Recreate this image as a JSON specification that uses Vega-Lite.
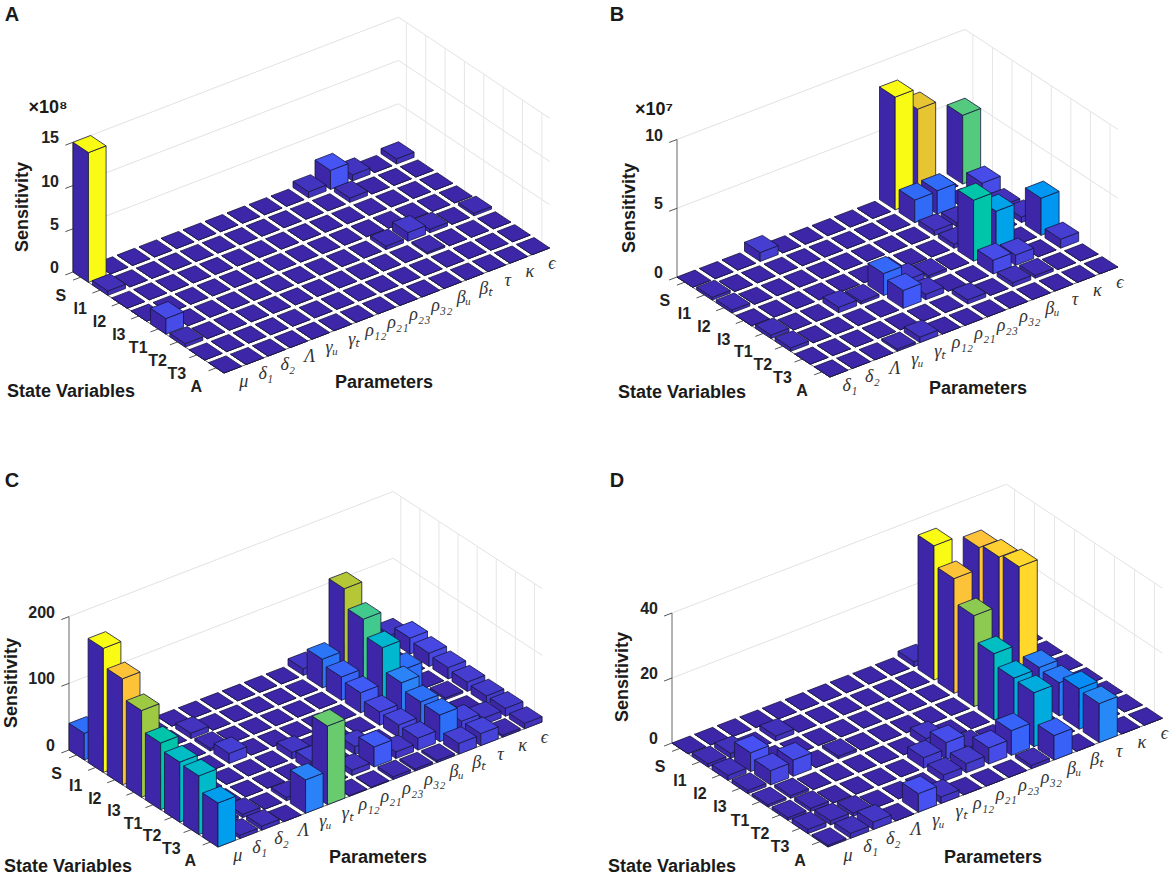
{"$schema":"https://vega.github.io/schema/vega-lite/v6.json","width":1170,"height":877,"padding":0,"autosize":{"type":"fit","contains":"padding"},"background":"white","config":{"view":{"stroke":null}},
"params":[
{"name":"cam","value":{"A":{"lx":73,"ly":272,"sx":19.36,"sy":12.95,"px":22,"py":-8.45,"zy":8.65,"n":15,"top":15,"vmax":15},"B":{"lx":677,"ly":277,"sx":19.6,"sy":12.82,"px":22.5,"py":-8.6,"zy":13.75,"n":13,"top":10,"vmax":8.2},"C":{"lx":69,"ly":750,"sx":19.1,"sy":12.44,"px":21.9,"py":-8.45,"zy":0.667,"n":15,"top":200,"vmax":186},"D":{"lx":672,"ly":743,"sx":20,"sy":13.33,"px":22.6,"py":-8.7,"zy":3.25,"n":15,"top":40,"vmax":41.3}}},
{"name":"corners","value":[[0,0,0,0,0],[0,1,1,0,0],[0,2,1,0,1],[0,3,0,0,1],[0,4,0,0,0],[1,0,1,0,0],[1,1,1,1,0],[1,2,1,1,1],[1,3,1,0,1],[1,4,1,0,0],[2,0,0,0,1],[2,1,1,0,1],[2,2,1,1,1],[2,3,0,1,1],[2,4,0,0,1]]},
{"name":"spots","value":{"A":{"letter":[12,15],"sens":[23,207],"state":[71,392],"par":[384,383],"exp":[48,108]},"B":{"letter":[617,15],"sens":[630,208],"state":[682,393],"par":[978,389],"exp":[654,110]},"C":{"letter":[12,481],"sens":[12,683],"state":[68,867],"par":[378,858]},"D":{"letter":[617,481],"sens":[623,677],"state":[672,867],"par":[993,858]}}}
],
"datasets":{
"zticks":[{"panel":"A","z":0},{"panel":"A","z":5},{"panel":"A","z":10},{"panel":"A","z":15},{"panel":"B","z":0},{"panel":"B","z":5},{"panel":"B","z":10},{"panel":"C","z":0},{"panel":"C","z":100},{"panel":"C","z":200},{"panel":"D","z":0},{"panel":"D","z":20},{"panel":"D","z":40}],
"states":[{"s":0,"label":"S"},{"s":1,"label":"I1"},{"s":2,"label":"I2"},{"s":3,"label":"I3"},{"s":4,"label":"T1"},{"s":5,"label":"T2"},{"s":6,"label":"T3"},{"s":7,"label":"A"}],
"parameters":[{"panels":["A","C","D"],"p":0,"label":"μ"},{"panels":["A","C","D"],"p":1,"label":"δ₁"},{"panels":["A","C","D"],"p":2,"label":"δ₂"},{"panels":["A","C","D"],"p":3,"label":"Λ"},{"panels":["A","C","D"],"p":4,"label":"γᵤ"},{"panels":["A","C","D"],"p":5,"label":"γₜ"},{"panels":["A","C","D"],"p":6,"label":"ρ₁₂"},{"panels":["A","C","D"],"p":7,"label":"ρ₂₁"},{"panels":["A","C","D"],"p":8,"label":"ρ₂₃"},{"panels":["A","C","D"],"p":9,"label":"ρ₃₂"},{"panels":["A","C","D"],"p":10,"label":"βᵤ"},{"panels":["A","C","D"],"p":11,"label":"βₜ"},{"panels":["A","C","D"],"p":12,"label":"τ"},{"panels":["A","C","D"],"p":13,"label":"κ"},{"panels":["A","C","D"],"p":14,"label":"ϵ"},{"panels":["B"],"p":0,"label":"δ₁"},{"panels":["B"],"p":1,"label":"δ₂"},{"panels":["B"],"p":2,"label":"Λ"},{"panels":["B"],"p":3,"label":"γᵤ"},{"panels":["B"],"p":4,"label":"γₜ"},{"panels":["B"],"p":5,"label":"ρ₁₂"},{"panels":["B"],"p":6,"label":"ρ₂₁"},{"panels":["B"],"p":7,"label":"ρ₂₃"},{"panels":["B"],"p":8,"label":"ρ₃₂"},{"panels":["B"],"p":9,"label":"βᵤ"},{"panels":["B"],"p":10,"label":"τ"},{"panels":["B"],"p":11,"label":"κ"},{"panels":["B"],"p":12,"label":"ϵ"}],
"titles":[{"panel":"A","kind":"letter","text":"A"},{"panel":"B","kind":"letter","text":"B"},{"panel":"C","kind":"letter","text":"C"},{"panel":"D","kind":"letter","text":"D"},{"panel":"A","kind":"sens","text":"Sensitivity"},{"panel":"B","kind":"sens","text":"Sensitivity"},{"panel":"C","kind":"sens","text":"Sensitivity"},{"panel":"D","kind":"sens","text":"Sensitivity"},{"panel":"A","kind":"state","text":"State Variables"},{"panel":"B","kind":"state","text":"State Variables"},{"panel":"C","kind":"state","text":"State Variables"},{"panel":"D","kind":"state","text":"State Variables"},{"panel":"A","kind":"par","text":"Parameters"},{"panel":"B","kind":"par","text":"Parameters"},{"panel":"C","kind":"par","text":"Parameters"},{"panel":"D","kind":"par","text":"Parameters"},{"panel":"A","kind":"exp","text":"×10⁸"},{"panel":"B","kind":"exp","text":"×10⁷"}],
"panels":[{"panel":"A"},{"panel":"B"},{"panel":"C"},{"panel":"D"}],
"bars":[
{"panel":"A","s":0,"p":14,"v":0.6},{"panel":"A","s":0,"p":13,"v":0},{"panel":"A","s":0,"p":12,"v":0.7},{"panel":"A","s":0,"p":11,"v":2.2},{"panel":"A","s":0,"p":10,"v":0.7},{"panel":"A","s":0,"p":9,"v":0},{"panel":"A","s":0,"p":8,"v":0},{"panel":"A","s":0,"p":7,"v":0},{"panel":"A","s":0,"p":6,"v":0},{"panel":"A","s":0,"p":5,"v":0},{"panel":"A","s":0,"p":4,"v":0},{"panel":"A","s":0,"p":3,"v":0},{"panel":"A","s":0,"p":2,"v":0},{"panel":"A","s":0,"p":1,"v":0},{"panel":"A","s":0,"p":0,"v":15},
{"panel":"A","s":1,"p":14,"v":0},{"panel":"A","s":1,"p":13,"v":0},{"panel":"A","s":1,"p":12,"v":0},{"panel":"A","s":1,"p":11,"v":0.5},{"panel":"A","s":1,"p":10,"v":0},{"panel":"A","s":1,"p":9,"v":0},{"panel":"A","s":1,"p":8,"v":0},{"panel":"A","s":1,"p":7,"v":0},{"panel":"A","s":1,"p":6,"v":0},{"panel":"A","s":1,"p":5,"v":0},{"panel":"A","s":1,"p":4,"v":0},{"panel":"A","s":1,"p":3,"v":0},{"panel":"A","s":1,"p":2,"v":0},{"panel":"A","s":1,"p":1,"v":0},{"panel":"A","s":1,"p":0,"v":0.5},
{"panel":"A","s":2,"p":14,"v":0},{"panel":"A","s":2,"p":13,"v":0},{"panel":"A","s":2,"p":12,"v":0},{"panel":"A","s":2,"p":11,"v":0},{"panel":"A","s":2,"p":10,"v":0},{"panel":"A","s":2,"p":9,"v":0},{"panel":"A","s":2,"p":8,"v":0},{"panel":"A","s":2,"p":7,"v":0},{"panel":"A","s":2,"p":6,"v":0},{"panel":"A","s":2,"p":5,"v":0},{"panel":"A","s":2,"p":4,"v":0},{"panel":"A","s":2,"p":3,"v":0},{"panel":"A","s":2,"p":2,"v":0},{"panel":"A","s":2,"p":1,"v":0},{"panel":"A","s":2,"p":0,"v":0},
{"panel":"A","s":3,"p":14,"v":0},{"panel":"A","s":3,"p":13,"v":0},{"panel":"A","s":3,"p":12,"v":0},{"panel":"A","s":3,"p":11,"v":0},{"panel":"A","s":3,"p":10,"v":0},{"panel":"A","s":3,"p":9,"v":0},{"panel":"A","s":3,"p":8,"v":0},{"panel":"A","s":3,"p":7,"v":0},{"panel":"A","s":3,"p":6,"v":0},{"panel":"A","s":3,"p":5,"v":0},{"panel":"A","s":3,"p":4,"v":0},{"panel":"A","s":3,"p":3,"v":0},{"panel":"A","s":3,"p":2,"v":0},{"panel":"A","s":3,"p":1,"v":0},{"panel":"A","s":3,"p":0,"v":0},
{"panel":"A","s":4,"p":14,"v":0.3},{"panel":"A","s":4,"p":13,"v":0},{"panel":"A","s":4,"p":12,"v":0.4},{"panel":"A","s":4,"p":11,"v":1},{"panel":"A","s":4,"p":10,"v":0.4},{"panel":"A","s":4,"p":9,"v":0},{"panel":"A","s":4,"p":8,"v":0},{"panel":"A","s":4,"p":7,"v":0},{"panel":"A","s":4,"p":6,"v":0},{"panel":"A","s":4,"p":5,"v":0},{"panel":"A","s":4,"p":4,"v":0},{"panel":"A","s":4,"p":3,"v":0},{"panel":"A","s":4,"p":2,"v":0},{"panel":"A","s":4,"p":1,"v":0},{"panel":"A","s":4,"p":0,"v":1.8},
{"panel":"A","s":5,"p":14,"v":0},{"panel":"A","s":5,"p":13,"v":0},{"panel":"A","s":5,"p":12,"v":0},{"panel":"A","s":5,"p":11,"v":0.2},{"panel":"A","s":5,"p":10,"v":0},{"panel":"A","s":5,"p":9,"v":0},{"panel":"A","s":5,"p":8,"v":0},{"panel":"A","s":5,"p":7,"v":0},{"panel":"A","s":5,"p":6,"v":0},{"panel":"A","s":5,"p":5,"v":0},{"panel":"A","s":5,"p":4,"v":0},{"panel":"A","s":5,"p":3,"v":0},{"panel":"A","s":5,"p":2,"v":0},{"panel":"A","s":5,"p":1,"v":0},{"panel":"A","s":5,"p":0,"v":0.4},
{"panel":"A","s":6,"p":14,"v":0},{"panel":"A","s":6,"p":13,"v":0},{"panel":"A","s":6,"p":12,"v":0},{"panel":"A","s":6,"p":11,"v":0},{"panel":"A","s":6,"p":10,"v":0},{"panel":"A","s":6,"p":9,"v":0},{"panel":"A","s":6,"p":8,"v":0},{"panel":"A","s":6,"p":7,"v":0},{"panel":"A","s":6,"p":6,"v":0},{"panel":"A","s":6,"p":5,"v":0},{"panel":"A","s":6,"p":4,"v":0},{"panel":"A","s":6,"p":3,"v":0},{"panel":"A","s":6,"p":2,"v":0},{"panel":"A","s":6,"p":1,"v":0},{"panel":"A","s":6,"p":0,"v":0},
{"panel":"A","s":7,"p":14,"v":0},{"panel":"A","s":7,"p":13,"v":0},{"panel":"A","s":7,"p":12,"v":0},{"panel":"A","s":7,"p":11,"v":0},{"panel":"A","s":7,"p":10,"v":0},{"panel":"A","s":7,"p":9,"v":0},{"panel":"A","s":7,"p":8,"v":0},{"panel":"A","s":7,"p":7,"v":0},{"panel":"A","s":7,"p":6,"v":0},{"panel":"A","s":7,"p":5,"v":0},{"panel":"A","s":7,"p":4,"v":0},{"panel":"A","s":7,"p":3,"v":0},{"panel":"A","s":7,"p":2,"v":0},{"panel":"A","s":7,"p":1,"v":0},{"panel":"A","s":7,"p":0,"v":0},
{"panel":"B","s":0,"p":12,"v":5},{"panel":"B","s":0,"p":11,"v":0},{"panel":"B","s":0,"p":10,"v":6.7},{"panel":"B","s":0,"p":9,"v":8.2},{"panel":"B","s":0,"p":8,"v":0},{"panel":"B","s":0,"p":7,"v":0},{"panel":"B","s":0,"p":6,"v":0},{"panel":"B","s":0,"p":5,"v":0},{"panel":"B","s":0,"p":4,"v":0},{"panel":"B","s":0,"p":3,"v":0.65},{"panel":"B","s":0,"p":2,"v":0},{"panel":"B","s":0,"p":1,"v":0},{"panel":"B","s":0,"p":0,"v":0},
{"panel":"B","s":1,"p":12,"v":1},{"panel":"B","s":1,"p":11,"v":0},{"panel":"B","s":1,"p":10,"v":1.7},{"panel":"B","s":1,"p":9,"v":1.65},{"panel":"B","s":1,"p":8,"v":0},{"panel":"B","s":1,"p":7,"v":0},{"panel":"B","s":1,"p":6,"v":0},{"panel":"B","s":1,"p":5,"v":0},{"panel":"B","s":1,"p":4,"v":0},{"panel":"B","s":1,"p":3,"v":0},{"panel":"B","s":1,"p":2,"v":0},{"panel":"B","s":1,"p":1,"v":0},{"panel":"B","s":1,"p":0,"v":0.2},
{"panel":"B","s":2,"p":12,"v":0.3},{"panel":"B","s":2,"p":11,"v":0},{"panel":"B","s":2,"p":10,"v":0.3},{"panel":"B","s":2,"p":9,"v":0.35},{"panel":"B","s":2,"p":8,"v":0},{"panel":"B","s":2,"p":7,"v":0},{"panel":"B","s":2,"p":6,"v":0},{"panel":"B","s":2,"p":5,"v":0},{"panel":"B","s":2,"p":4,"v":0},{"panel":"B","s":2,"p":3,"v":0},{"panel":"B","s":2,"p":2,"v":0},{"panel":"B","s":2,"p":1,"v":0},{"panel":"B","s":2,"p":0,"v":0.2},
{"panel":"B","s":3,"p":12,"v":0.4},{"panel":"B","s":3,"p":11,"v":0},{"panel":"B","s":3,"p":10,"v":0},{"panel":"B","s":3,"p":9,"v":0.3},{"panel":"B","s":3,"p":8,"v":0},{"panel":"B","s":3,"p":7,"v":0},{"panel":"B","s":3,"p":6,"v":0},{"panel":"B","s":3,"p":5,"v":0},{"panel":"B","s":3,"p":4,"v":0},{"panel":"B","s":3,"p":3,"v":0},{"panel":"B","s":3,"p":2,"v":0},{"panel":"B","s":3,"p":1,"v":0},{"panel":"B","s":3,"p":0,"v":0},
{"panel":"B","s":4,"p":12,"v":2.7},{"panel":"B","s":4,"p":11,"v":0},{"panel":"B","s":4,"p":10,"v":3},{"panel":"B","s":4,"p":9,"v":4.43},{"panel":"B","s":4,"p":8,"v":0},{"panel":"B","s":4,"p":7,"v":0.2},{"panel":"B","s":4,"p":6,"v":0.5},{"panel":"B","s":4,"p":5,"v":1.6},{"panel":"B","s":4,"p":4,"v":0.2},{"panel":"B","s":4,"p":3,"v":0.4},{"panel":"B","s":4,"p":2,"v":0},{"panel":"B","s":4,"p":1,"v":0},{"panel":"B","s":4,"p":0,"v":0.25},
{"panel":"B","s":5,"p":12,"v":0.65},{"panel":"B","s":5,"p":11,"v":0},{"panel":"B","s":5,"p":10,"v":0.75},{"panel":"B","s":5,"p":9,"v":1},{"panel":"B","s":5,"p":8,"v":0},{"panel":"B","s":5,"p":7,"v":0},{"panel":"B","s":5,"p":6,"v":0.4},{"panel":"B","s":5,"p":5,"v":1.3},{"panel":"B","s":5,"p":4,"v":0},{"panel":"B","s":5,"p":3,"v":0},{"panel":"B","s":5,"p":2,"v":0},{"panel":"B","s":5,"p":1,"v":0},{"panel":"B","s":5,"p":0,"v":0.25},
{"panel":"B","s":6,"p":12,"v":0},{"panel":"B","s":6,"p":11,"v":0},{"panel":"B","s":6,"p":10,"v":0.2},{"panel":"B","s":6,"p":9,"v":0.3},{"panel":"B","s":6,"p":8,"v":0},{"panel":"B","s":6,"p":7,"v":0.3},{"panel":"B","s":6,"p":6,"v":0},{"panel":"B","s":6,"p":5,"v":0},{"panel":"B","s":6,"p":4,"v":0},{"panel":"B","s":6,"p":3,"v":0},{"panel":"B","s":6,"p":2,"v":0},{"panel":"B","s":6,"p":1,"v":0},{"panel":"B","s":6,"p":0,"v":0},
{"panel":"B","s":7,"p":12,"v":0},{"panel":"B","s":7,"p":11,"v":0},{"panel":"B","s":7,"p":10,"v":0},{"panel":"B","s":7,"p":9,"v":0},{"panel":"B","s":7,"p":8,"v":0},{"panel":"B","s":7,"p":7,"v":0},{"panel":"B","s":7,"p":6,"v":0},{"panel":"B","s":7,"p":5,"v":0},{"panel":"B","s":7,"p":4,"v":0.4},{"panel":"B","s":7,"p":3,"v":0.15},{"panel":"B","s":7,"p":2,"v":0},{"panel":"B","s":7,"p":1,"v":0},{"panel":"B","s":7,"p":0,"v":0},
{"panel":"C","s":0,"p":14,"v":10},{"panel":"C","s":0,"p":13,"v":0},{"panel":"C","s":0,"p":12,"v":0},{"panel":"C","s":0,"p":11,"v":0},{"panel":"C","s":0,"p":10,"v":10},{"panel":"C","s":0,"p":9,"v":0},{"panel":"C","s":0,"p":8,"v":0},{"panel":"C","s":0,"p":7,"v":0},{"panel":"C","s":0,"p":6,"v":0},{"panel":"C","s":0,"p":5,"v":0},{"panel":"C","s":0,"p":4,"v":0},{"panel":"C","s":0,"p":3,"v":0},{"panel":"C","s":0,"p":2,"v":0},{"panel":"C","s":0,"p":1,"v":0},{"panel":"C","s":0,"p":0,"v":40},
{"panel":"C","s":1,"p":14,"v":24},{"panel":"C","s":1,"p":13,"v":0},{"panel":"C","s":1,"p":12,"v":0},{"panel":"C","s":1,"p":11,"v":136},{"panel":"C","s":1,"p":10,"v":43},{"panel":"C","s":1,"p":9,"v":0},{"panel":"C","s":1,"p":8,"v":0},{"panel":"C","s":1,"p":7,"v":0},{"panel":"C","s":1,"p":6,"v":0},{"panel":"C","s":1,"p":5,"v":0},{"panel":"C","s":1,"p":4,"v":8},{"panel":"C","s":1,"p":3,"v":0},{"panel":"C","s":1,"p":2,"v":0},{"panel":"C","s":1,"p":1,"v":0},{"panel":"C","s":1,"p":0,"v":186},
{"panel":"C","s":2,"p":14,"v":20},{"panel":"C","s":2,"p":13,"v":0},{"panel":"C","s":2,"p":12,"v":0},{"panel":"C","s":2,"p":11,"v":109},{"panel":"C","s":2,"p":10,"v":35},{"panel":"C","s":2,"p":9,"v":0},{"panel":"C","s":2,"p":8,"v":0},{"panel":"C","s":2,"p":7,"v":0},{"panel":"C","s":2,"p":6,"v":0},{"panel":"C","s":2,"p":5,"v":0},{"panel":"C","s":2,"p":4,"v":4},{"panel":"C","s":2,"p":3,"v":0},{"panel":"C","s":2,"p":2,"v":0},{"panel":"C","s":2,"p":1,"v":0},{"panel":"C","s":2,"p":0,"v":159},
{"panel":"C","s":3,"p":14,"v":17},{"panel":"C","s":3,"p":13,"v":0},{"panel":"C","s":3,"p":12,"v":40},{"panel":"C","s":3,"p":11,"v":85},{"panel":"C","s":3,"p":10,"v":30},{"panel":"C","s":3,"p":9,"v":0},{"panel":"C","s":3,"p":8,"v":0},{"panel":"C","s":3,"p":7,"v":0},{"panel":"C","s":3,"p":6,"v":0},{"panel":"C","s":3,"p":5,"v":0},{"panel":"C","s":3,"p":4,"v":15},{"panel":"C","s":3,"p":3,"v":0},{"panel":"C","s":3,"p":2,"v":0},{"panel":"C","s":3,"p":1,"v":0},{"panel":"C","s":3,"p":0,"v":130},
{"panel":"C","s":4,"p":14,"v":14},{"panel":"C","s":4,"p":13,"v":3},{"panel":"C","s":4,"p":12,"v":0},{"panel":"C","s":4,"p":11,"v":51},{"panel":"C","s":4,"p":10,"v":20},{"panel":"C","s":4,"p":9,"v":0},{"panel":"C","s":4,"p":8,"v":0},{"panel":"C","s":4,"p":7,"v":0},{"panel":"C","s":4,"p":6,"v":10},{"panel":"C","s":4,"p":5,"v":0},{"panel":"C","s":4,"p":4,"v":0},{"panel":"C","s":4,"p":3,"v":0},{"panel":"C","s":4,"p":2,"v":0},{"panel":"C","s":4,"p":1,"v":0},{"panel":"C","s":4,"p":0,"v":100},
{"panel":"C","s":5,"p":14,"v":12},{"panel":"C","s":5,"p":13,"v":0},{"panel":"C","s":5,"p":12,"v":0},{"panel":"C","s":5,"p":11,"v":41},{"panel":"C","s":5,"p":10,"v":19},{"panel":"C","s":5,"p":9,"v":0},{"panel":"C","s":5,"p":8,"v":12},{"panel":"C","s":5,"p":7,"v":0},{"panel":"C","s":5,"p":6,"v":15},{"panel":"C","s":5,"p":5,"v":0},{"panel":"C","s":5,"p":4,"v":0},{"panel":"C","s":5,"p":3,"v":0},{"panel":"C","s":5,"p":2,"v":0},{"panel":"C","s":5,"p":1,"v":0},{"panel":"C","s":5,"p":0,"v":90},
{"panel":"C","s":6,"p":14,"v":12},{"panel":"C","s":6,"p":13,"v":10},{"panel":"C","s":6,"p":12,"v":18},{"panel":"C","s":6,"p":11,"v":40},{"panel":"C","s":6,"p":10,"v":18},{"panel":"C","s":6,"p":9,"v":10},{"panel":"C","s":6,"p":8,"v":30},{"panel":"C","s":6,"p":7,"v":8},{"panel":"C","s":6,"p":6,"v":0},{"panel":"C","s":6,"p":5,"v":0},{"panel":"C","s":6,"p":4,"v":5},{"panel":"C","s":6,"p":3,"v":0},{"panel":"C","s":6,"p":2,"v":5},{"panel":"C","s":6,"p":1,"v":5},{"panel":"C","s":6,"p":0,"v":88},
{"panel":"C","s":7,"p":14,"v":8},{"panel":"C","s":7,"p":13,"v":3},{"panel":"C","s":7,"p":12,"v":18},{"panel":"C","s":7,"p":11,"v":16},{"panel":"C","s":7,"p":10,"v":3},{"panel":"C","s":7,"p":9,"v":3},{"panel":"C","s":7,"p":8,"v":4},{"panel":"C","s":7,"p":7,"v":1},{"panel":"C","s":7,"p":6,"v":1},{"panel":"C","s":7,"p":5,"v":118},{"panel":"C","s":7,"p":4,"v":50},{"panel":"C","s":7,"p":3,"v":0},{"panel":"C","s":7,"p":2,"v":6},{"panel":"C","s":7,"p":1,"v":5},{"panel":"C","s":7,"p":0,"v":66},
{"panel":"D","s":0,"p":14,"v":0},{"panel":"D","s":0,"p":13,"v":0},{"panel":"D","s":0,"p":12,"v":0},{"panel":"D","s":0,"p":11,"v":0},{"panel":"D","s":0,"p":10,"v":1.5},{"panel":"D","s":0,"p":9,"v":0},{"panel":"D","s":0,"p":8,"v":0},{"panel":"D","s":0,"p":7,"v":0},{"panel":"D","s":0,"p":6,"v":0},{"panel":"D","s":0,"p":5,"v":0},{"panel":"D","s":0,"p":4,"v":0},{"panel":"D","s":0,"p":3,"v":0},{"panel":"D","s":0,"p":2,"v":0},{"panel":"D","s":0,"p":1,"v":0},{"panel":"D","s":0,"p":0,"v":0},
{"panel":"D","s":1,"p":14,"v":0},{"panel":"D","s":1,"p":13,"v":0},{"panel":"D","s":1,"p":12,"v":35.4},{"panel":"D","s":1,"p":11,"v":0},{"panel":"D","s":1,"p":10,"v":41.3},{"panel":"D","s":1,"p":9,"v":0},{"panel":"D","s":1,"p":8,"v":0},{"panel":"D","s":1,"p":7,"v":0},{"panel":"D","s":1,"p":6,"v":0},{"panel":"D","s":1,"p":5,"v":0},{"panel":"D","s":1,"p":4,"v":0},{"panel":"D","s":1,"p":3,"v":1.5},{"panel":"D","s":1,"p":2,"v":0},{"panel":"D","s":1,"p":1,"v":1.5},{"panel":"D","s":1,"p":0,"v":1},
{"panel":"D","s":2,"p":14,"v":0},{"panel":"D","s":2,"p":13,"v":0},{"panel":"D","s":2,"p":12,"v":36.6},{"panel":"D","s":2,"p":11,"v":0},{"panel":"D","s":2,"p":10,"v":35.3},{"panel":"D","s":2,"p":9,"v":0},{"panel":"D","s":2,"p":8,"v":0},{"panel":"D","s":2,"p":7,"v":0},{"panel":"D","s":2,"p":6,"v":0},{"panel":"D","s":2,"p":5,"v":0},{"panel":"D","s":2,"p":4,"v":0},{"panel":"D","s":2,"p":3,"v":0},{"panel":"D","s":2,"p":2,"v":0},{"panel":"D","s":2,"p":1,"v":5.8},{"panel":"D","s":2,"p":0,"v":1.5},
{"panel":"D","s":3,"p":14,"v":0},{"panel":"D","s":3,"p":13,"v":0},{"panel":"D","s":3,"p":12,"v":37.7},{"panel":"D","s":3,"p":11,"v":0},{"panel":"D","s":3,"p":10,"v":28},{"panel":"D","s":3,"p":9,"v":0},{"panel":"D","s":3,"p":8,"v":0},{"panel":"D","s":3,"p":7,"v":0},{"panel":"D","s":3,"p":6,"v":0},{"panel":"D","s":3,"p":5,"v":0},{"panel":"D","s":3,"p":4,"v":0.8},{"panel":"D","s":3,"p":3,"v":0},{"panel":"D","s":3,"p":2,"v":5},{"panel":"D","s":3,"p":1,"v":4.4},{"panel":"D","s":3,"p":0,"v":1},
{"panel":"D","s":4,"p":14,"v":0},{"panel":"D","s":4,"p":13,"v":0},{"panel":"D","s":4,"p":12,"v":10.8},{"panel":"D","s":4,"p":11,"v":0},{"panel":"D","s":4,"p":10,"v":20.4},{"panel":"D","s":4,"p":9,"v":0},{"panel":"D","s":4,"p":8,"v":0},{"panel":"D","s":4,"p":7,"v":2.3},{"panel":"D","s":4,"p":6,"v":0},{"panel":"D","s":4,"p":5,"v":0},{"panel":"D","s":4,"p":4,"v":0},{"panel":"D","s":4,"p":3,"v":0},{"panel":"D","s":4,"p":2,"v":0},{"panel":"D","s":4,"p":1,"v":0.8},{"panel":"D","s":4,"p":0,"v":0.7},
{"panel":"D","s":5,"p":14,"v":0},{"panel":"D","s":5,"p":13,"v":0},{"panel":"D","s":5,"p":12,"v":10.2},{"panel":"D","s":5,"p":11,"v":0},{"panel":"D","s":5,"p":10,"v":17},{"panel":"D","s":5,"p":9,"v":0},{"panel":"D","s":5,"p":8,"v":1},{"panel":"D","s":5,"p":7,"v":5.2},{"panel":"D","s":5,"p":6,"v":3.2},{"panel":"D","s":5,"p":5,"v":0},{"panel":"D","s":5,"p":4,"v":0},{"panel":"D","s":5,"p":3,"v":0},{"panel":"D","s":5,"p":2,"v":0},{"panel":"D","s":5,"p":1,"v":1},{"panel":"D","s":5,"p":0,"v":0.8},
{"panel":"D","s":6,"p":14,"v":0},{"panel":"D","s":6,"p":13,"v":0},{"panel":"D","s":6,"p":12,"v":12.5},{"panel":"D","s":6,"p":11,"v":0},{"panel":"D","s":6,"p":10,"v":16.6},{"panel":"D","s":6,"p":9,"v":7.6},{"panel":"D","s":6,"p":8,"v":5},{"panel":"D","s":6,"p":7,"v":2.8},{"panel":"D","s":6,"p":6,"v":2},{"panel":"D","s":6,"p":5,"v":0},{"panel":"D","s":6,"p":4,"v":0},{"panel":"D","s":6,"p":3,"v":0},{"panel":"D","s":6,"p":2,"v":1},{"panel":"D","s":6,"p":1,"v":1.3},{"panel":"D","s":6,"p":0,"v":1.3},
{"panel":"D","s":7,"p":14,"v":0},{"panel":"D","s":7,"p":13,"v":0},{"panel":"D","s":7,"p":12,"v":12},{"panel":"D","s":7,"p":11,"v":0},{"panel":"D","s":7,"p":10,"v":7.5},{"panel":"D","s":7,"p":9,"v":1},{"panel":"D","s":7,"p":8,"v":0},{"panel":"D","s":7,"p":7,"v":0},{"panel":"D","s":7,"p":6,"v":0},{"panel":"D","s":7,"p":5,"v":2},{"panel":"D","s":7,"p":4,"v":5.7},{"panel":"D","s":7,"p":3,"v":0},{"panel":"D","s":7,"p":2,"v":2.3},{"panel":"D","s":7,"p":1,"v":1.5},{"panel":"D","s":7,"p":0,"v":0.5}
]},
"encoding":{"x":{"field":"X","type":"quantitative","scale":{"domain":[0,1170],"nice":false,"zero":false},"axis":null},"y":{"field":"Y","type":"quantitative","scale":{"domain":[877,0],"nice":false,"zero":false},"axis":null}},
"layer":[
{"data":{"name":"zticks"},"mark":{"type":"rule","stroke":"#e2e2e2","strokeWidth":1},"transform":[{"calculate":"cam[datum.panel]","as":"g"},{"filter":"datum.z>0"},{"calculate":"datum.g.lx","as":"X"},{"calculate":"datum.g.ly-datum.z*datum.g.zy","as":"Y"},{"calculate":"datum.g.lx+(datum.g.n-0.2)*datum.g.px","as":"X2"},{"calculate":"datum.g.ly+(datum.g.n-0.2)*datum.g.py-datum.z*datum.g.zy","as":"Y2"}],"encoding":{"x2":{"field":"X2"},"y2":{"field":"Y2"}}},
{"data":{"name":"zticks"},"mark":{"type":"rule","stroke":"#e2e2e2","strokeWidth":1},"transform":[{"calculate":"cam[datum.panel]","as":"g"},{"filter":"datum.z>0"},{"calculate":"datum.g.lx+(datum.g.n-0.2)*datum.g.px","as":"X"},{"calculate":"datum.g.ly+(datum.g.n-0.2)*datum.g.py-datum.z*datum.g.zy","as":"Y"},{"calculate":"datum.X+7.8*datum.g.sx","as":"X2"},{"calculate":"datum.Y+7.8*datum.g.sy","as":"Y2"}],"encoding":{"x2":{"field":"X2"},"y2":{"field":"Y2"}}},
{"data":{"name":"states"},"mark":{"type":"rule","stroke":"#e6e6e6","strokeWidth":1},"transform":[{"calculate":"['A','B','C','D']","as":"panel"},{"flatten":["panel"]},{"calculate":"cam[datum.panel]","as":"g"},{"calculate":"datum.g.lx+(datum.g.n-0.2)*datum.g.px+(datum.s+0.4)*datum.g.sx","as":"X"},{"calculate":"datum.g.ly+(datum.g.n-0.2)*datum.g.py+(datum.s+0.4)*datum.g.sy","as":"Y"},{"calculate":"datum.X","as":"X2"},{"calculate":"datum.Y-datum.g.top*datum.g.zy","as":"Y2"}],"encoding":{"x2":{"field":"X2"},"y2":{"field":"Y2"}}},
{"data":{"name":"panels"},"mark":{"type":"rule","stroke":"#666666","strokeWidth":1},"transform":[{"calculate":"cam[datum.panel]","as":"g"},{"calculate":"datum.g.lx","as":"X"},{"calculate":"datum.g.ly","as":"Y"},{"calculate":"datum.g.lx","as":"X2"},{"calculate":"datum.g.ly-datum.g.top*datum.g.zy","as":"Y2"}],"encoding":{"x2":{"field":"X2"},"y2":{"field":"Y2"}}},
{"data":{"name":"panels"},"mark":{"type":"rule","stroke":"#666666","strokeWidth":1},"transform":[{"calculate":"cam[datum.panel]","as":"g"},{"calculate":"datum.g.lx","as":"X"},{"calculate":"datum.g.ly","as":"Y"},{"calculate":"datum.g.lx+7.8*datum.g.sx","as":"X2"},{"calculate":"datum.g.ly+7.8*datum.g.sy","as":"Y2"}],"encoding":{"x2":{"field":"X2"},"y2":{"field":"Y2"}}},
{"data":{"name":"panels"},"mark":{"type":"rule","stroke":"#666666","strokeWidth":1},"transform":[{"calculate":"cam[datum.panel]","as":"g"},{"calculate":"datum.g.lx+7.8*datum.g.sx","as":"X"},{"calculate":"datum.g.ly+7.8*datum.g.sy","as":"Y"},{"calculate":"datum.X+(datum.g.n-0.2)*datum.g.px","as":"X2"},{"calculate":"datum.Y+(datum.g.n-0.2)*datum.g.py","as":"Y2"}],"encoding":{"x2":{"field":"X2"},"y2":{"field":"Y2"}}},
{"data":{"name":"zticks"},"mark":{"type":"rule","stroke":"#555555","strokeWidth":1},"transform":[{"calculate":"cam[datum.panel]","as":"g"},{"calculate":"datum.g.lx","as":"X"},{"calculate":"datum.g.ly-datum.z*datum.g.zy","as":"Y"},{"calculate":"datum.X-0.35*datum.g.px","as":"X2"},{"calculate":"datum.Y-0.35*datum.g.py","as":"Y2"}],"encoding":{"x2":{"field":"X2"},"y2":{"field":"Y2"}}},
{"data":{"name":"states"},"mark":{"type":"rule","stroke":"#555555","strokeWidth":1},"transform":[{"calculate":"['A','B','C','D']","as":"panel"},{"flatten":["panel"]},{"calculate":"cam[datum.panel]","as":"g"},{"calculate":"datum.g.lx+(datum.s+0.4)*datum.g.sx","as":"X"},{"calculate":"datum.g.ly+(datum.s+0.4)*datum.g.sy","as":"Y"},{"calculate":"datum.X-0.35*datum.g.px","as":"X2"},{"calculate":"datum.Y-0.35*datum.g.py","as":"Y2"}],"encoding":{"x2":{"field":"X2"},"y2":{"field":"Y2"}}},
{"data":{"name":"bars"},"mark":{"type":"line","stroke":"#17173f","strokeWidth":0.8,"strokeJoin":"round"},"transform":[{"calculate":"cam[datum.panel]","as":"g"},{"calculate":"corners","as":"k"},{"flatten":["k"]},{"calculate":"datum.k[0]","as":"face"},{"calculate":"datum.k[1]","as":"c"},{"calculate":"datum.g.lx+(datum.s+0.8*datum.k[2])*datum.g.sx+(datum.p+0.8*datum.k[3])*datum.g.px","as":"X"},{"calculate":"datum.g.ly+(datum.s+0.8*datum.k[2])*datum.g.sy+(datum.p+0.8*datum.k[3])*datum.g.py-datum.k[4]*datum.v*datum.g.zy","as":"Y"},{"calculate":"datum.face==0?0:datum.v/datum.g.vmax","as":"t"},{"calculate":"datum.panel+'-'+datum.s+'-'+datum.p+'-'+datum.face","as":"id"}],"encoding":{"fill":{"field":"t","type":"quantitative","scale":{"domain":[0,0.143,0.286,0.429,0.571,0.714,0.857,1],"range":["#3e26a8","#4752f4","#2d87f7","#12b1d6","#37c897","#abc739","#fec338","#f9fb15"]},"legend":null},"detail":{"field":"id"},"order":{"field":"c","type":"quantitative"}}},
{"data":{"name":"zticks"},"mark":{"type":"text","font":"Liberation Sans","fontWeight":"bold","fontSize":16,"align":"right","baseline":"middle","fill":"#222222"},"transform":[{"calculate":"cam[datum.panel]","as":"g"},{"calculate":"datum.g.lx-14","as":"X"},{"calculate":"datum.g.ly-datum.z*datum.g.zy-4","as":"Y"}],"encoding":{"text":{"field":"z","type":"quantitative"}}},
{"data":{"name":"states"},"mark":{"type":"text","font":"Liberation Sans","fontWeight":"bold","fontSize":16,"align":"center","baseline":"middle","fill":"#222222"},"transform":[{"calculate":"['A','B','C','D']","as":"panel"},{"flatten":["panel"]},{"calculate":"cam[datum.panel]","as":"g"},{"calculate":"datum.g.lx+(datum.s+0.4)*datum.g.sx-20","as":"X"},{"calculate":"datum.g.ly+(datum.s+0.4)*datum.g.sy+19","as":"Y"}],"encoding":{"text":{"field":"label"}}},
{"data":{"name":"parameters"},"mark":{"type":"text","font":"Liberation Serif","fontStyle":"italic","fontSize":18,"align":"center","baseline":"middle","fill":"#333333"},"transform":[{"flatten":["panels"]},{"calculate":"cam[datum.panels]","as":"g"},{"calculate":"datum.g.lx+7.8*datum.g.sx+(datum.p+0.4)*datum.g.px+11","as":"X"},{"calculate":"datum.g.ly+7.8*datum.g.sy+(datum.p+0.4)*datum.g.py+12.5","as":"Y"}],"encoding":{"text":{"field":"label"}}},
{"data":{"name":"titles"},"mark":{"type":"text","font":"Liberation Sans","fontWeight":"bold","align":"center","baseline":"middle","fill":"#1a1a1a"},"transform":[{"calculate":"spots[datum.panel][datum.kind]","as":"at"},{"calculate":"datum.at[0]","as":"X"},{"calculate":"datum.at[1]","as":"Y"},{"calculate":"datum.kind=='sens'?270:0","as":"ang"},{"calculate":"datum.kind=='letter'?20:datum.kind=='exp'?18:18","as":"fs"}],"encoding":{"text":{"field":"text"},"angle":{"field":"ang","type":"quantitative","scale":null},"size":{"field":"fs","type":"quantitative","scale":null}}}
]}
